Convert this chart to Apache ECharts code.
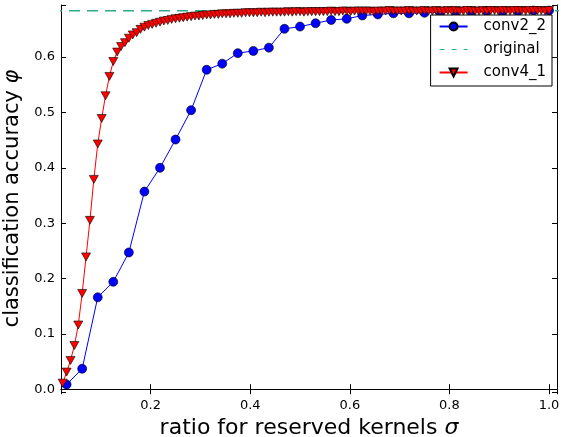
<!DOCTYPE html>
<html>
<head>
<meta charset="utf-8">
<script src="https://cdn.jsdelivr.net/npm/echarts@6/dist/echarts.min.js"></script>
<style>
  html, body { margin: 0; padding: 0; background: #fff; }
  #chart { width: 561px; height: 437px; }
</style>
</head>
<body>
<div id="chart"></div>
<script>
// ratio of reserved kernels (x) for each curve
var conv2Ratio = [
  0.03125, 0.0625, 0.09375, 0.125, 0.15625, 0.1875, 0.21875, 0.25,
  0.28125, 0.3125, 0.34375, 0.375, 0.40625, 0.4375, 0.46875, 0.5,
  0.53125, 0.5625, 0.59375, 0.625, 0.65625, 0.6875, 0.71875, 0.75,
  0.78125, 0.8125, 0.84375, 0.875, 0.90625, 0.9375, 0.96875, 1.0
]
var conv2Acc = [
  0.0085, 0.037, 0.166, 0.194, 0.247, 0.357, 0.400, 0.451,
  0.504, 0.577, 0.588, 0.607, 0.611, 0.617, 0.651, 0.655,
  0.661, 0.667, 0.669, 0.675, 0.677, 0.679, 0.679, 0.680,
  0.681, 0.682, 0.682, 0.683, 0.682, 0.683, 0.684, 0.684
]

var conv4Ratio = [
  0.0234, 0.0313, 0.0391, 0.0469, 0.0547, 0.0625, 0.0703, 0.0781,
  0.0859, 0.0938, 0.1016, 0.1094, 0.1172, 0.1250, 0.1328, 0.1406,
  0.1484, 0.1563, 0.1641, 0.1719, 0.1797, 0.1875, 0.1953, 0.2031,
  0.2109, 0.2188, 0.2266, 0.2344, 0.2422, 0.2500, 0.2578, 0.2656,
  0.2734, 0.2813, 0.2891, 0.2969, 0.3047, 0.3125, 0.3203, 0.3281,
  0.3359, 0.3438, 0.3516, 0.3594, 0.3672, 0.3750, 0.3828, 0.3906,
  0.3984, 0.4063, 0.4141, 0.4219, 0.4297, 0.4375, 0.4453, 0.4531,
  0.4609, 0.4688, 0.4766, 0.4844, 0.4922, 0.5000, 0.5078, 0.5156,
  0.5234, 0.5313, 0.5391, 0.5469, 0.5547, 0.5625, 0.5703, 0.5781,
  0.5859, 0.5938, 0.6016, 0.6094, 0.6172, 0.6250, 0.6328, 0.6406,
  0.6484, 0.6563, 0.6641, 0.6719, 0.6797, 0.6875, 0.6953, 0.7031,
  0.7109, 0.7188, 0.7266, 0.7344, 0.7422, 0.7500, 0.7578, 0.7656,
  0.7734, 0.7813, 0.7891, 0.7969, 0.8047, 0.8125, 0.8203, 0.8281,
  0.8359, 0.8438, 0.8516, 0.8594, 0.8672, 0.8750, 0.8828, 0.8906,
  0.8984, 0.9063, 0.9141, 0.9219, 0.9297, 0.9375, 0.9453, 0.9531,
  0.9609, 0.9688, 0.9766, 0.9844, 0.9922, 1.0000
]
var conv4Acc = [
  0.011, 0.031, 0.052, 0.079, 0.116, 0.173, 0.239, 0.305,
  0.379, 0.443, 0.489, 0.530, 0.565, 0.592, 0.609, 0.619,
  0.626, 0.634, 0.640, 0.644, 0.650, 0.654, 0.657, 0.659,
  0.661, 0.663, 0.665, 0.666, 0.668, 0.669, 0.670, 0.671,
  0.672, 0.673, 0.674, 0.674, 0.675, 0.676, 0.676, 0.677,
  0.677, 0.678, 0.678, 0.678, 0.679, 0.679, 0.679, 0.680,
  0.680, 0.680, 0.680, 0.681, 0.680, 0.681, 0.681, 0.681,
  0.681, 0.681, 0.682, 0.681, 0.682, 0.682, 0.681, 0.682,
  0.682, 0.682, 0.682, 0.682, 0.682, 0.683, 0.682, 0.682,
  0.683, 0.683, 0.682, 0.683, 0.683, 0.683, 0.683, 0.683,
  0.682, 0.683, 0.683, 0.683, 0.684, 0.683, 0.683, 0.683,
  0.683, 0.684, 0.683, 0.683, 0.683, 0.684, 0.683, 0.683,
  0.684, 0.683, 0.683, 0.684, 0.683, 0.684, 0.683, 0.683,
  0.684, 0.684, 0.683, 0.683, 0.684, 0.683, 0.684, 0.684,
  0.683, 0.684, 0.684, 0.683, 0.684, 0.684, 0.684, 0.683,
  0.684, 0.684, 0.684, 0.684, 0.683, 0.684
]

// baseline (unpruned) accuracy
var originalRatio = [0.0, 1.02]
var originalAcc = [0.6835, 0.6835]

var xTicks = [0.2, 0.4, 0.6, 0.8, 1.0]
var yTicks = [0.0, 0.1, 0.2, 0.3, 0.4, 0.5, 0.6]

function pairs(xs, ys) {
  return xs.map(function (x, i) { return [x, ys[i]] })
}

function onTick(list) {
  return function (v) {
    for (var i = 0; i < list.length; i++) {
      if (Math.abs(v - list[i]) < 1e-6) return list[i].toFixed(1)
    }
    return ''
  }
}

var font = 'DejaVu Sans'
var tickStyle = { show: true, inside: true, length: 5, lineStyle: { color: '#000', width: 1 } }
var lineAxis = { show: true, lineStyle: { color: '#000', width: 1 } }

var myChart = echarts.init(document.getElementById('chart'))

var option = {
  animation: false,
  backgroundColor: '#fff',
  grid: { left: 61, right: 4, top: 5, bottom: 45, containLabel: false, outerBoundsMode: 'none' },
  legend: {
    orient: 'vertical',
    right: 9,
    top: 15,
    itemWidth: 28,
    itemHeight: 10,
    itemGap: 8,
    padding: [4, 6, 6, 8],
    borderColor: '#000',
    borderWidth: 1,
    borderRadius: 0,
    backgroundColor: '#fff',
    textStyle: { fontFamily: font, fontSize: 15, color: '#000', lineHeight: 15, padding: [0, 0, 0, 11] },
    data: [
      'conv2_2',
      { name: 'original', itemStyle: { opacity: 0 }, lineStyle: { type: [5, 7], width: 1 } },
      'conv4_1'
    ]
  },
  xAxis: [
    {
      type: 'value',
      min: 0.02,
      max: 1.016,
      minInterval: 0.2,
      maxInterval: 0.2,
      name: 'ratio for reserved kernels {i|σ}',
      nameLocation: 'middle',
      nameGap: 21,
      nameTextStyle: {
        fontFamily: font, fontSize: 22, color: '#000',
        rich: { i: { fontFamily: font, fontSize: 22, fontStyle: 'italic', color: '#000' } }
      },
      axisLine: lineAxis,
      axisTick: tickStyle,
      splitLine: { show: false },
      axisLabel: { fontFamily: font, fontSize: 13, color: '#000', margin: 7, formatter: onTick(xTicks) }
    },
    {
      type: 'value',
      position: 'top',
      min: 0.02,
      max: 1.016,
      minInterval: 0.2,
      maxInterval: 0.2,
      axisLine: lineAxis,
      axisTick: tickStyle,
      splitLine: { show: false },
      axisLabel: { show: false }
    }
  ],
  yAxis: [
    {
      type: 'value',
      min: -0.005,
      max: 0.694,
      minInterval: 0.1,
      maxInterval: 0.1,
      name: 'classification accuracy {i|φ}',
      nameLocation: 'middle',
      nameGap: 33,
      nameTextStyle: {
        fontFamily: font, fontSize: 21, color: '#000',
        rich: { i: { fontFamily: font, fontSize: 21, fontStyle: 'italic', color: '#000' } }
      },
      axisLine: lineAxis,
      axisTick: tickStyle,
      splitLine: { show: false },
      axisLabel: { fontFamily: font, fontSize: 13, color: '#000', margin: 6, formatter: onTick(yTicks) }
    },
    {
      type: 'value',
      position: 'right',
      min: -0.005,
      max: 0.694,
      minInterval: 0.1,
      maxInterval: 0.1,
      axisLine: lineAxis,
      axisTick: tickStyle,
      splitLine: { show: false },
      axisLabel: { show: false }
    }
  ],
  series: [
    {
      name: 'conv2_2',
      type: 'line',
      data: pairs(conv2Ratio, conv2Acc),
      symbol: 'circle',
      symbolSize: 9,
      lineStyle: { color: '#0000ff', width: 1 },
      itemStyle: { color: '#0000ff', borderColor: '#000', borderWidth: 0.6 },
      z: 2
    },
    {
      name: 'original',
      type: 'line',
      data: pairs(originalRatio, originalAcc),
      symbol: 'none',
      lineStyle: { color: '#2ea98a', width: 1.5, type: [11, 7] },
      itemStyle: { color: '#2ea98a' },
      z: 3
    },
    {
      name: 'conv4_1',
      type: 'line',
      data: pairs(conv4Ratio, conv4Acc),
      symbol: 'triangle',
      symbolRotate: 180,
      symbolSize: [9, 8],
      lineStyle: { color: '#ff0000', width: 1 },
      itemStyle: { color: '#ff0000', borderColor: '#000', borderWidth: 0.6 },
      z: 4
    }
  ]
}

myChart.setOption(option)
</script>
</body>
</html>
